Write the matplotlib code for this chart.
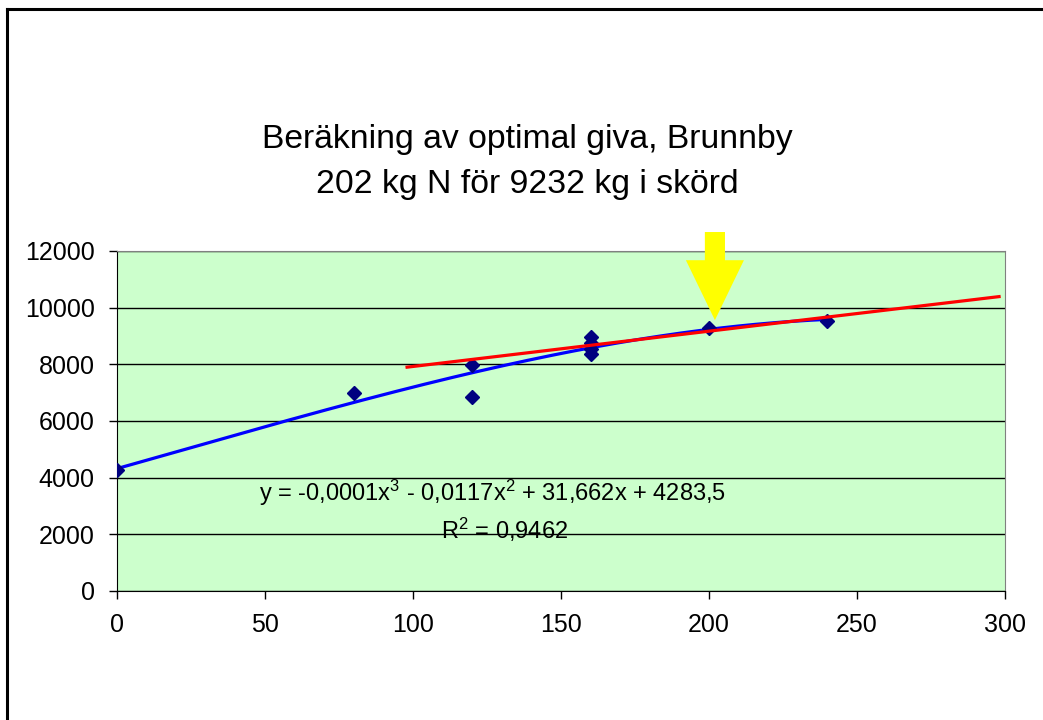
import numpy as np
import matplotlib
matplotlib.use("Agg")
import matplotlib.pyplot as plt
from matplotlib.patches import FancyArrow
from matplotlib.lines import Line2D

plt.rcParams['font.family'] = ['Liberation Sans', 'DejaVu Sans']
plt.rcParams['mathtext.fontset'] = 'custom'
plt.rcParams['mathtext.rm'] = 'Liberation Sans'
plt.rcParams['mathtext.default'] = 'regular'

# data
kg_n = [0, 80, 120, 120, 160, 160, 160, 160, 200, 240]
skord = [4280, 7000, 7980, 6850, 8950, 8750, 8550, 8350, 9300, 9530]
red_x = [98, 298]
red_y = [7900, 10390]
arrow_x = 202
arrow_top = 12670
arrow_tip = 9560
title = "Beräkning av optimal giva, Brunnby\n202 kg N för 9232 kg i skörd"
eq_text = "y = -0,0001x$^3$ - 0,0117x$^2$ + 31,662x + 4283,5"
r2_text = "R$^2$ = 0,9462"
xticks = [0, 50, 100, 150, 200, 250, 300]
yticks = [0, 2000, 4000, 6000, 8000, 10000, 12000]

fig = plt.figure(figsize=(10.43, 7.2), dpi=100)
ax = fig.add_axes([117/1043, 1 - 591/720, 888/1043, 340/720])
ax.set_facecolor('#CCFFCC')

# cubic trendline (same fit Excel does)
coef = np.polyfit(kg_n, skord, 3)
xs = np.linspace(min(kg_n), max(kg_n), 200)
ax.plot(xs, np.polyval(coef, xs), color='#0000FF', lw=2.3, zorder=3)
ax.plot(kg_n, skord, 'D', color='#000080', ms=7, zorder=4)
ax.plot(red_x, red_y, color='#FF0000', lw=2.3, zorder=5)

arr = FancyArrow(arrow_x, arrow_top, 0, arrow_tip - arrow_top, width=6.8,
                 head_width=19.6, head_length=2115, length_includes_head=True,
                 color='#FFFF00', lw=0, clip_on=False, zorder=6)
ax.add_patch(arr)

ax.set_xlim(0, 300)
ax.set_ylim(0, 12000)
ax.set_xticks(xticks)
ax.set_yticks(yticks)
ax.yaxis.grid(True, color='black', lw=1)
ax.set_axisbelow(True)
ax.tick_params(direction='out', length=6, width=1, labelsize=18, pad=10, color='black')
for s in ['top', 'right']:
    ax.spines[s].set_color('#808080')
for s in ['left', 'bottom']:
    ax.spines[s].set_color('black')

ax.text(127, 3460, eq_text, fontsize=17, ha='center', va='center', zorder=7)
ax.text(131, 2150, r2_text, fontsize=17, ha='center', va='center', zorder=7)

fig.text(527/1043, 1 - 162/720, title, fontsize=24.3, ha='center', va='center',
         linespacing=1.55)

# outer frame of the chart object (right and bottom edges fall outside)
fig.add_artist(Line2D([7/1043, 7/1043], [-0.1, 1 - 9/720], color='black', lw=2.2,
                      transform=fig.transFigure))
fig.add_artist(Line2D([7/1043, 1.1], [1 - 9/720, 1 - 9/720], color='black', lw=2.2,
                      transform=fig.transFigure))

fig.savefig('out.png', dpi=100)
